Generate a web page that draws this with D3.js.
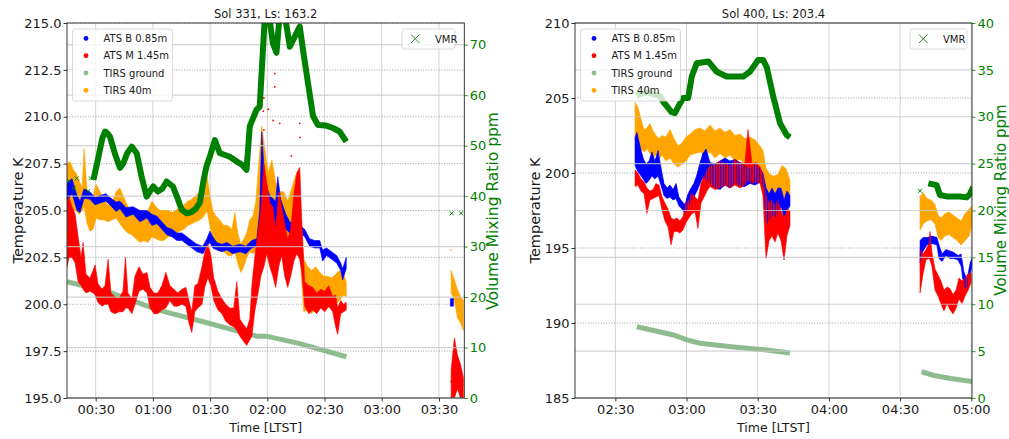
<!DOCTYPE html>
<html>
<head>
<meta charset="utf-8">
<script src="https://cdn.jsdelivr.net/npm/d3@7/dist/d3.min.js"></script>
<style>
  body { margin: 0; background: #fff; }
  svg { font-family: "DejaVu Sans", sans-serif; }
</style>
</head>
<body>
<svg id="chart" width="1009" height="439"></svg>
<script>
// time is minutes after midnight LTST
// temperature bands: [time, low K, high K], null = data gap

// ---- Sol 331 ----
var sol331AtsB = [
  [15.0,205.5,206.5],[17.6,205.9,206.7],[20.2,205.0,205.8],[21.8,204.9,205.5],[23.9,205.65,206.15],
  [27.0,205.6,206.0],[29.7,205.3,205.7],[32.3,205.4,205.8],[35.4,205.5,205.9],[37.5,205.3,205.7],
  [40.7,204.95,205.45],[42.7,205.1,205.5],[45.9,204.65,205.15],[49.6,204.8,205.2],[53.2,204.4,205.0],
  [56.9,204.6,205.0],[59.5,204.2,204.8],[62.1,204.3,204.7],[64.7,204.0,204.4],[67.4,203.7,204.1],
  [70.0,203.6,204.0],[72.6,203.4,203.8],[75.2,203.4,203.8],[77.8,203.2,203.6],[80.4,203.0,203.4],
  [83.1,202.8,203.2],[86.2,202.7,203.1],[88.3,203.1,203.5],[89.9,203.3,203.9],[91.4,203.0,203.6],
  [93.5,202.9,203.3],[96.2,202.8,203.2],[98.8,202.9,203.3],[101.9,202.7,203.1],[105.6,202.8,203.2],
  [108.7,202.7,203.1],[111.9,203.0,203.4],[114.5,203.1,203.5],[116.0,203.4,205.0],[117.1,204.0,209.2],
  [118.7,204.0,206.5],[121.3,204.0,205.8],[124.4,204.1,205.5],[125.5,204.3,206.8],[127.0,204.2,205.6],
  [129.7,204.0,204.8],[131.8,203.8,204.4],[134.4,203.9,204.3],[137.0,203.8,204.2],[139.6,203.6,204.0],
  [142.2,203.1,203.5],[144.8,203.0,203.4],[147.5,203.0,203.4],[149.0,202.3,202.9],[151.1,202.6,203.0],
  [153.7,202.4,202.8],[156.4,202.2,202.6],[158.5,201.8,202.2],[159.5,201.3,201.9],[161.4,201.9,202.5],
  null,
  [216.0,199.9,200.3],[217.6,199.9,200.3]
];
var sol331AtsM = [
  [15.0,202.0,205.6],[16.0,202.5,205.7],[17.6,202.5,205.2],[19.2,202.2,204.8],[20.8,201.2,203.6],
  [22.3,201.0,202.5],[23.4,200.8,203.3],[24.9,200.6,201.6],[27.0,200.7,201.4],[28.6,200.6,201.8],
  [29.7,200.5,202.1],[31.2,200.1,201.1],[33.3,199.9,200.8],[34.9,200.0,201.0],[36.5,200.0,202.4],
  [38.0,199.6,200.6],[40.1,199.5,200.4],[42.2,199.6,200.3],[44.3,199.6,200.7],[45.6,199.8,202.5],
  [46.9,199.8,200.6],[49.0,199.5,200.3],[50.6,200.0,201.5],[52.7,200.7,202.0],[54.8,200.8,201.6],
  [56.9,200.6,201.7],[58.5,199.8,200.9],[60.5,199.5,200.6],[62.6,199.5,200.6],[64.7,199.7,201.0],
  [66.8,199.8,201.7],[68.9,200.2,201.0],[71.0,199.9,200.8],[73.1,199.9,200.6],[75.2,200.0,200.8],
  [77.3,199.9,200.9],[78.9,199.0,200.2],[80.4,198.5,199.6],[82.0,199.6,201.0],[83.6,199.8,201.1],
  [85.7,200.0,202.0],[87.2,200.9,202.8],[88.8,201.4,203.2],[90.4,201.0,202.6],[91.9,200.2,201.4],
  [94.1,199.7,200.7],[96.2,199.5,200.3],[98.2,199.1,200.0],[100.3,198.9,199.8],[102.4,198.8,199.8],
  [104.0,198.6,201.2],[105.6,198.3,199.2],[107.7,198.0,198.9],[109.2,197.8,198.7],[110.8,198.1,199.2],
  [111.9,198.3,201.0],[113.4,199.6,202.5],[115.0,200.5,203.8],[116.6,201.5,205.0],[118.2,202.0,207.5],
  [119.7,202.7,206.5],[121.3,202.0,205.4],[122.9,201.5,205.2],[124.4,200.9,204.0],[126.0,202.0,206.0],
  [127.5,202.6,205.2],[129.1,201.5,204.3],[130.7,200.9,203.5],[132.3,201.5,204.0],[133.9,202.3,205.8],
  [135.4,202.7,207.0],[137.0,202.4,207.3],[138.0,201.8,204.6],[139.6,199.9,201.2],[141.7,199.5,201.0],
  [143.8,199.7,200.9],[145.9,199.5,200.6],[148.0,199.8,200.8],[150.1,199.6,200.7],[152.2,199.9,201.0],
  [154.3,199.6,200.4],[155.8,198.8,200.5],[156.9,198.4,199.8],[158.5,199.5,200.2],[160.0,199.6,200.0],
  [161.4,199.7,200.1],
  null,
  [216.4,195.0,196.5],[218.1,195.0,198.2],[219.7,195.5,197.3],[221.3,195.0,196.8],[222.8,195.0,196.1]
];
var sol331AtsMSpikes = [
  [117.8,212.3],[117.8,211.8],[118.2,211.0],[117.9,210.3],[118.2,209.3],[123.9,212.3],[123.9,211.6],
  [120.5,210.4],[123.0,209.8],[126.5,209.65],[132.6,207.9],[137.0,209.65],[137.2,208.9]
];
var sol331Tirs40 = [
  [15.0,204.9,207.5],[16.6,204.7,207.6],[18.1,205.0,207.2],[19.7,205.0,207.0],[21.3,204.8,206.6],
  [22.9,205.0,206.2],[23.9,205.2,208.3],[25.5,204.3,206.0],[27.0,203.9,205.6],[28.6,204.0,205.8],
  [30.2,204.6,206.4],[32.3,204.5,206.0],[34.4,204.5,205.6],[36.5,204.4,205.3],[38.6,204.5,205.4],
  [40.7,204.6,206.0],[42.7,204.3,206.2],[44.8,204.0,205.7],[46.9,203.8,205.2],[49.0,203.7,205.0],
  [51.1,203.5,204.9],[53.2,203.3,204.8],[55.3,203.4,204.9],[57.4,203.3,205.0],[59.5,203.6,205.5],
  [61.6,203.5,205.2],[63.7,203.4,205.0],[65.8,203.4,205.0],[67.9,203.6,205.0],[70.0,203.6,204.9],
  [72.1,203.8,205.0],[74.2,203.9,205.2],[76.3,204.0,205.3],[78.4,204.2,205.5],[80.4,204.3,205.6],
  [82.5,204.4,205.8],[84.6,204.5,206.0],[86.7,204.7,206.5],[88.3,205.0,206.9],[89.9,204.2,205.8],
  [91.4,203.5,205.0],[93.0,203.1,204.7],[95.1,202.9,204.5],[97.2,202.8,204.2],[99.3,202.6,204.2],
  [101.4,202.6,204.0],[103.0,202.8,204.9],[104.5,202.2,203.8],[106.1,201.7,203.2],[107.7,202.0,203.5],
  [109.2,202.5,203.8],[110.8,202.8,204.5],[112.4,202.7,204.7],[114.0,202.8,205.5],[115.5,203.3,207.5],
  [117.1,203.8,209.5],[118.7,203.6,208.3],[120.3,203.8,207.0],[122.4,203.8,207.7],[124.4,203.9,206.5],
  [126.5,203.6,206.0],[128.6,203.4,206.0],[130.7,203.4,205.5],[132.8,203.7,206.2],[134.9,203.8,206.9],
  [136.5,203.7,206.5],[137.5,202.0,204.0],[139.1,199.6,202.4],[141.2,199.7,202.0],[143.3,199.5,201.8],
  [145.4,199.8,202.0],[147.5,199.9,201.7],[149.6,200.0,201.5],[151.6,199.8,201.5],[153.7,199.9,201.4],
  [155.8,200.0,201.6],[157.9,200.2,201.8],[160.0,200.5,201.6],[161.4,200.4,201.2],
  null,
  [216.4,200.6,201.8],[218.1,200.2,201.3],[219.7,199.3,200.8],[221.3,199.0,200.4],[222.8,198.6,200.2]
];
var sol331Tirs40Spikes = [[216.4,202.9]];
var sol331Ground = [
  [15.0,201.2],[38.0,200.6],[62.6,199.7],[88.8,199.0],[114.3,198.3],[119.6,198.3],[137.0,197.9],[161.4,197.2],
  null,
  [216.2,195.95],[222.3,195.6]
];
// VMR, [time, ppm]
var sol331Vmr = [
  [28.8,43.2],[31.0,47.0],[33.5,51.5],[34.9,52.8],[36.0,52.5],[37.5,51.8],[40.0,48.5],[42.7,45.6],
  [44.5,46.5],[46.5,48.5],[48.9,49.8],[51.5,48.5],[54.0,44.0],[56.7,39.9],[58.5,41.0],[60.2,41.9],
  [62.6,40.9],[65.0,41.5],[67.2,42.9],[70.5,41.9],[73.0,39.5],[75.1,37.3],[77.7,36.6],[80.0,36.8],
  [82.5,37.5],[84.6,38.7],[86.5,43.0],[88.1,45.9],[90.0,48.0],[92.5,51.1],[95.1,48.5],[97.5,48.2],
  [100.3,47.8],[103.8,46.9],[106.5,46.3],[109.1,45.2],[110.8,53.8],[114.3,57.1],[116.0,57.7],
  [118.7,75.5],[121.0,75.5],[122.9,70.3],[124.8,68.4],[126.5,76.0],[129.1,76.0],[131.8,69.6],
  [134.4,71.6],[137.0,73.6],[138.7,69.0],[141.5,62.0],[144.0,55.8],[146.6,54.1],[150.5,54.0],
  [154.4,53.5],[157.9,52.8],[161.4,50.8]
];
var sol331VmrMarks = [[16.0,43.0],[18.5,41.5],[20.0,43.5],[26.0,41.0],[27.5,43.5],[216.7,36.6],[221.6,36.6]];

// ---- Sol 400 ----
var sol400AtsB = [
  [158.3,200.5,202.4],[159.1,200.2,202.7],[160.4,199.9,201.8],[161.7,199.6,201.0],[162.9,199.3,200.6],
  [164.2,199.5,200.8],[165.4,199.8,201.4],[166.7,199.6,200.8],[168.0,199.8,201.5],[169.2,199.2,200.4],
  [170.5,198.5,199.3],[171.8,198.3,199.0],[173.0,198.4,199.2],[174.3,198.2,198.9],[175.6,198.3,199.3],
  [176.8,197.8,198.4],[178.1,197.6,198.1],[179.4,197.3,197.9],[180.6,197.6,198.6],[181.9,198.1,199.0],
  [183.1,198.4,199.3],[184.4,198.8,199.9],[185.7,199.3,200.7],[186.9,199.7,201.3],[188.2,199.6,201.6],
  [189.9,199.3,200.7],[192.0,199.0,200.6],[194.1,198.9,200.8],[196.2,199.2,201.0],[198.3,199.0,200.8],
  [200.4,199.3,200.9],[202.5,199.1,200.7],[204.6,199.1,200.5],[206.7,199.3,200.3],[208.9,199.2,200.6],
  [211.0,199.4,200.3],[212.2,199.0,200.0],[213.5,196.5,199.0],[214.8,196.8,198.6],[216.0,197.2,199.0],
  [217.3,197.0,198.6],[218.5,197.3,199.0],[219.8,197.8,199.0],[221.1,197.0,198.2],[222.3,197.5,198.8],
  [223.6,197.8,198.5],
  null,
  [278.4,194.0,195.5],[279.7,194.8,195.7],[281.3,195.2,195.7],[283.4,195.3,195.8],[285.5,195.2,195.7],
  [286.4,194.3,195.2],[287.7,194.1,194.6],[289.3,194.5,194.9],[291.0,194.3,194.8],[292.7,194.3,194.7],
  [294.4,194.2,194.5],[295.7,193.8,194.6],[296.9,192.4,193.4],[298.2,192.2,192.9],[299.5,193.3,194.0],
  [300.3,193.8,194.3]
];
var sol400AtsM = [
  [158.3,199.1,200.2],[159.5,199.2,200.0],[160.8,198.8,199.6],[162.1,198.6,199.4],[163.3,197.3,199.0],
  [164.6,198.2,198.8],[165.9,198.3,198.9],[167.1,198.4,199.3],[168.4,198.5,199.2],[169.7,197.5,198.4],
  [170.9,196.8,198.0],[172.2,196.4,197.6],[173.5,195.2,197.0],[174.7,196.1,196.9],[176.0,196.1,197.0],
  [177.2,196.0,196.8],[178.5,196.2,197.1],[179.8,196.7,198.0],[181.0,197.0,198.2],[182.3,197.3,198.7],
  [183.6,197.4,198.4],[184.8,196.3,198.2],[186.1,198.0,199.3],[187.4,198.4,199.8],[188.6,198.8,200.2],
  [189.9,199.1,200.5],[192.0,198.9,200.6],[194.1,199.0,200.8],[196.2,199.2,200.6],[198.3,199.0,200.5],
  [200.4,199.2,200.9],[202.5,199.0,200.7],[204.6,199.2,200.6],[205.9,199.5,202.9],[207.6,199.3,200.6],
  [209.3,199.4,200.7],[211.0,199.3,200.4],[212.2,198.5,200.0],[213.5,194.3,198.5],[214.8,195.5,198.0],
  [216.0,195.8,198.2],[217.3,195.4,197.8],[218.5,196.0,198.2],[219.8,195.5,197.5],[221.1,194.2,197.0],
  [222.3,195.8,197.6],[223.6,196.5,197.5],
  null,
  [278.4,192.0,194.9],[279.7,193.3,194.6],[280.9,194.2,194.9],[282.2,194.3,195.3],[282.6,194.2,196.1],
  [283.4,193.8,194.7],[284.7,192.2,193.6],[286.0,191.8,193.2],[287.2,191.3,192.8],[288.5,190.8,192.2],
  [289.8,191.3,192.4],[291.0,190.9,192.3],[292.3,190.6,191.9],[293.6,191.0,192.2],[294.8,191.6,193.0],
  [296.1,191.3,192.8],[297.4,191.8,193.0],[298.7,192.2,193.3],[299.9,192.7,193.3]
];
var sol400Tirs40 = [
  [158.3,202.2,204.7],[159.5,202.0,204.4],[160.8,201.6,203.6],[162.1,201.4,202.9],[163.3,201.6,203.0],
  [164.6,201.3,203.3],[165.9,201.0,202.8],[167.1,201.2,202.5],[168.4,200.9,202.3],[169.7,201.2,202.5],
  [171.3,200.8,202.4],[173.0,201.0,202.9],[174.7,200.6,202.3],[176.4,200.4,201.8],[178.1,200.6,202.0],
  [179.8,200.8,202.4],[181.5,201.2,202.6],[183.6,201.3,202.9],[185.7,201.4,203.0],[187.8,201.2,202.8],
  [189.9,201.4,203.2],[192.0,201.0,202.8],[194.1,201.3,203.0],[196.2,201.0,202.7],[198.3,201.2,202.9],
  [200.4,200.8,202.5],[202.5,200.9,202.6],[204.6,200.6,202.3],[206.7,200.7,202.4],[208.9,200.5,202.2],
  [211.0,200.4,201.8],[212.2,200.2,201.5],[213.5,198.4,200.3],[215.2,198.4,199.9],[216.8,198.3,199.8],
  [218.5,198.5,199.9],[220.2,198.0,200.5],[221.9,198.2,200.3],[223.6,198.6,199.5],
  null,
  [278.4,196.2,198.4],[279.7,196.6,198.7],[281.3,196.8,198.3],[283.0,196.9,198.2],[284.7,196.6,197.9],
  [286.0,195.7,197.2],[287.2,195.5,197.0],[288.9,195.8,197.3],[290.6,195.9,197.4],[292.3,195.7,197.2],
  [294.0,195.5,197.0],[295.7,195.2,196.8],[297.4,195.5,197.3],[299.1,195.8,197.6],[300.3,196.5,197.8]
];
var sol400Ground = [
  [159.1,189.75],[166.1,189.5],[174.5,189.2],[180.1,188.87],[185.7,188.65],[199.8,188.4],[213.8,188.2],[223.6,188.0],
  null,
  [279.0,186.75],[284.3,186.5],[291.3,186.3],[300.4,186.1]
];
var sol400Vmr = [
  [158.8,32.3],[163.3,32.6],[168.8,32.2],[170.2,31.6],[173.7,30.5],[175.1,30.4],[177.2,31.4],[178.6,32.0],
  [180.7,32.0],[182.2,34.3],[184.3,35.7],[189.2,35.9],[192.7,34.8],[196.9,34.3],[203.9,34.3],[206.7,34.8],
  [210.2,36.05],[212.3,36.05],[213.8,35.3],[216.6,32.1],[219.4,29.3],[222.2,28.05],[223.6,27.8],
  null,
  [281.9,22.9],[285.4,22.7],[286.8,21.65],[289.6,21.5],[295.2,21.5],[298.1,21.4],[299.5,21.8],[300.8,22.5]
];
var sol400VmrMarks = [[278.4,22.1]];

// ticks
var sol331TimeTicks = ["00:30", "01:00", "01:30", "02:00", "02:30", "03:00", "03:30"];
var sol400TimeTicks = ["02:30", "03:00", "03:30", "04:00", "04:30", "05:00"];
var sol331TempTicks = [195, 197.5, 200, 202.5, 205, 207.5, 210, 212.5, 215];
var sol400TempTicks = [185, 190, 195, 200, 205, 210];
var sol331VmrTicks = [0, 10, 20, 30, 40, 50, 60, 70];
var sol400VmrTicks = [0, 5, 10, 15, 20, 25, 30, 35, 40];

var seriesNames = ["ATS B 0.85m", "ATS M 1.45m", "TIRS ground", "TIRS 40m"];
var seriesColors = ["#0000ff", "#ff0000", "#8fbc8f", "#ffa500"];
var vmrColor = "#008000";

function toMinutes(s) {
  var p = s.split(":");
  return (+p[0]) * 60 + (+p[1]);
}

var svg = d3.select("#chart");

// thin vertical stripes so the blue cloud shows through the red one
svg.append("defs").append("pattern").attr("id", "blueStripe")
    .attr("patternUnits", "userSpaceOnUse").attr("width", 2.6).attr("height", 4)
  .append("rect").attr("width", 1).attr("height", 4).attr("fill", seriesColors[0]);

function drawPanel(cfg) {
  var x = d3.scaleLinear().domain(cfg.timeDomain).range([cfg.left, cfg.right]);
  var y = d3.scaleLinear().domain(cfg.tempDomain).range([cfg.bottom, cfg.top]);
  var yv = d3.scaleLinear().domain(cfg.vmrDomain).range([cfg.bottom, cfg.top]);
  var timeTicks = cfg.timeTicks.map(toMinutes);

  var g = svg.append("g");

  g.append("clipPath").attr("id", cfg.id + "-clip")
    .append("rect")
      .attr("x", cfg.left).attr("y", cfg.top)
      .attr("width", cfg.right - cfg.left).attr("height", cfg.bottom - cfg.top);

  // grid
  g.selectAll(".vgrid").data(timeTicks).enter().append("line")
    .attr("x1", d => x(d)).attr("x2", d => x(d))
    .attr("y1", cfg.top).attr("y2", cfg.bottom)
    .attr("stroke", "#d3d3d3").attr("stroke-width", 1);
  g.selectAll(".tgrid").data(cfg.tempTicks).enter().append("line")
    .attr("x1", cfg.left).attr("x2", cfg.right)
    .attr("y1", d => y(d)).attr("y2", d => y(d))
    .attr("stroke", "#8a8a8a").attr("stroke-width", 0.8)
    .attr("stroke-dasharray", "1,1.6");

  var plot = g.append("g").attr("clip-path", "url(#" + cfg.id + "-clip)");

  var band = d3.area()
    .defined(d => d !== null)
    .x(d => x(d[0])).y0(d => y(d[1])).y1(d => y(d[2]));
  var line = d3.line()
    .defined(d => d !== null)
    .x(d => x(d[0])).y(d => y(d[1]));
  var vline = d3.line()
    .defined(d => d !== null)
    .x(d => x(d[0])).y(d => yv(d[1]));

  function drawBand(data, i) {
    plot.append("path").attr("d", band(data))
      .attr("fill", seriesColors[i])
      .attr("stroke", seriesColors[i]).attr("stroke-width", 0.6);
  }

  drawBand(cfg.tirs40, 3);
  plot.selectAll(".o").data(cfg.tirs40Spikes || []).enter().append("circle")
    .attr("cx", d => x(d[0])).attr("cy", d => y(d[1])).attr("r", 0.8).attr("fill", seriesColors[3]);
  plot.append("path").attr("d", line(cfg.ground))
    .attr("fill", "none").attr("stroke", seriesColors[2]).attr("stroke-width", 5);
  drawBand(cfg.atsB, 0);
  drawBand(cfg.atsM, 1);
  if (cfg.blueThrough) {
    plot.append("path").attr("d", band(cfg.atsB)).attr("fill", "url(#blueStripe)");
  }
  plot.selectAll(".r").data(cfg.atsMSpikes || []).enter().append("circle")
    .attr("cx", d => x(d[0])).attr("cy", d => y(d[1])).attr("r", 0.9).attr("fill", seriesColors[1]);

  // VMR axis grid sits over the temperature data
  g.selectAll(".vmgrid").data(cfg.vmrTicks).enter().append("line")
    .attr("x1", cfg.left).attr("x2", cfg.right)
    .attr("y1", d => yv(d)).attr("y2", d => yv(d))
    .attr("stroke", "#c8c8c8").attr("stroke-width", 1.2).attr("opacity", 0.8);

  var plot2 = g.append("g").attr("clip-path", "url(#" + cfg.id + "-clip)");
  plot2.append("path").attr("d", vline(cfg.vmr))
    .attr("fill", "none").attr("stroke", vmrColor).attr("stroke-width", 6)
    .attr("stroke-linejoin", "round");
  plot2.selectAll(".xm").data(cfg.vmrMarks).enter().append("path")
    .attr("d", d => {
      var cx = x(d[0]), cy = yv(d[1]), s = 2;
      return "M" + (cx - s) + "," + (cy - s) + "L" + (cx + s) + "," + (cy + s)
           + "M" + (cx - s) + "," + (cy + s) + "L" + (cx + s) + "," + (cy - s);
    })
    .attr("stroke", vmrColor).attr("stroke-width", 1).attr("fill", "none");

  // axes
  var ax = g.append("g").attr("transform", "translate(0," + cfg.bottom + ")")
    .call(d3.axisBottom(x).tickValues(timeTicks).tickSize(3.5).tickPadding(3)
      .tickFormat((d, i) => cfg.timeTicks[i]));
  var ay = g.append("g").attr("transform", "translate(" + cfg.left + ",0)")
    .call(d3.axisLeft(y).tickValues(cfg.tempTicks).tickSize(3.5).tickPadding(2)
      .tickFormat(d3.format(cfg.tempFormat)));
  var av = g.append("g").attr("transform", "translate(" + cfg.right + ",0)")
    .call(d3.axisRight(yv).tickValues(cfg.vmrTicks).tickSize(3.5).tickPadding(2));
  [ax, ay, av].forEach(a => {
    a.attr("font-family", null).attr("font-size", 13);
    a.select(".domain").remove();
    a.selectAll("line").attr("stroke-width", 0.8);
  });
  ay.selectAll("text").attr("fill", "#1a1a1a");
  ax.selectAll("text").attr("fill", "#1a1a1a");
  av.selectAll("line").attr("stroke", vmrColor);
  av.selectAll("text").attr("fill", vmrColor);

  // frame
  g.append("rect")
    .attr("x", cfg.left).attr("y", cfg.top)
    .attr("width", cfg.right - cfg.left).attr("height", cfg.bottom - cfg.top)
    .attr("fill", "none").attr("stroke", "#222").attr("stroke-width", 0.9);

  // labels
  g.append("text")
    .attr("x", (cfg.left + cfg.right) / 2).attr("y", 18)
    .attr("text-anchor", "middle").attr("font-size", 11.5).attr("fill", "#1a1a1a")
    .text(cfg.title);
  g.append("text")
    .attr("x", (cfg.left + cfg.right) / 2).attr("y", 432)
    .attr("text-anchor", "middle").attr("font-size", 12.5).attr("fill", "#1a1a1a")
    .text("Time [LTST]");
  g.append("text")
    .attr("transform", "translate(" + cfg.tempLabelX + "," + ((cfg.top + cfg.bottom) / 2) + ") rotate(-90)")
    .attr("text-anchor", "middle").attr("dominant-baseline", "central")
    .attr("font-size", 14.5).attr("fill", "#1a1a1a")
    .text("Temperature K");
  g.append("text")
    .attr("transform", "translate(" + cfg.vmrLabelX + "," + cfg.vmrLabelY + ") rotate(-90)")
    .attr("text-anchor", "middle").attr("dominant-baseline", "central")
    .attr("font-size", cfg.vmrLabelSize).attr("fill", vmrColor)
    .text("Volume Mixing Ratio ppm");

  // temperature legend
  var lg = g.append("g").attr("transform", "translate(" + (cfg.left + 5.5) + "," + 29 + ")");
  lg.append("rect").attr("width", 100).attr("height", 72).attr("rx", 2.5)
    .attr("fill", "rgba(255,255,255,0.8)").attr("stroke", "#d0d0d0").attr("stroke-width", 0.8);
  seriesNames.forEach((name, i) => {
    var ry = 9.4 + i * 17.3;
    lg.append("circle").attr("cx", 13.5).attr("cy", ry).attr("r", 2.4).attr("fill", seriesColors[i]);
    lg.append("text").attr("x", 31).attr("y", ry).attr("dy", "0.36em")
      .attr("font-size", 10).attr("fill", "#1a1a1a").text(name);
  });

  // VMR legend
  var vg = g.append("g").attr("transform", "translate(" + cfg.vmrLegendX + "," + 29 + ")");
  vg.append("rect").attr("width", cfg.vmrLegendW).attr("height", 20).attr("rx", 2.5)
    .attr("fill", "rgba(255,255,255,0.8)").attr("stroke", "#d0d0d0").attr("stroke-width", 0.8);
  vg.append("path")
    .attr("d", "M9,5.5L17.5,14M9,14L17.5,5.5")
    .attr("stroke", "#2a8a2a").attr("stroke-width", 1).attr("fill", "none");
  vg.append("text").attr("x", 33).attr("y", 10).attr("dy", "0.36em")
    .attr("font-size", 10).attr("fill", "#1a1a1a").text("VMR");
}

drawPanel({
  id: "sol331", title: "Sol 331, Ls: 163.2",
  left: 67, right: 464.3, top: 23, bottom: 398,
  timeDomain: [14.95, 223.3], tempDomain: [195, 215], vmrDomain: [0, 74.3],
  timeTicks: sol331TimeTicks, tempTicks: sol331TempTicks, vmrTicks: sol331VmrTicks,
  tempFormat: ".1f",
  atsB: sol331AtsB, atsM: sol331AtsM, atsMSpikes: sol331AtsMSpikes,
  tirs40: sol331Tirs40, tirs40Spikes: sol331Tirs40Spikes, ground: sol331Ground,
  vmr: sol331Vmr, vmrMarks: sol331VmrMarks, blueThrough: false,
  tempLabelX: 17.5, vmrLabelX: 493, vmrLabelY: 211, vmrLabelSize: 15.5,
  vmrLegendX: 402, vmrLegendW: 53
});

drawPanel({
  id: "sol400", title: "Sol 400, Ls: 203.4",
  left: 575, right: 972, top: 23, bottom: 398,
  timeDomain: [133, 300.3], tempDomain: [185, 210], vmrDomain: [0, 40],
  timeTicks: sol400TimeTicks, tempTicks: sol400TempTicks, vmrTicks: sol400VmrTicks,
  tempFormat: "d",
  atsB: sol400AtsB, atsM: sol400AtsM,
  tirs40: sol400Tirs40, ground: sol400Ground,
  vmr: sol400Vmr, vmrMarks: sol400VmrMarks, blueThrough: true,
  tempLabelX: 535, vmrLabelX: 1000.5, vmrLabelY: 200, vmrLabelSize: 15,
  vmrLegendX: 910, vmrLegendW: 57
});
</script>
</body>
</html>
